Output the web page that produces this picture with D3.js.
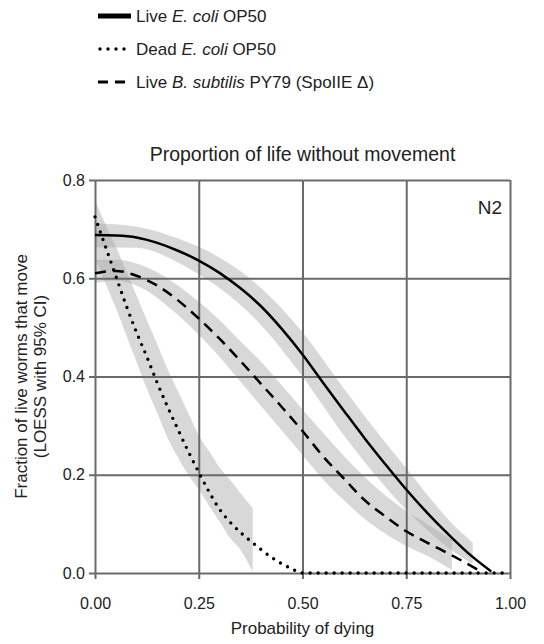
<!DOCTYPE html>
<html>
<head>
<meta charset="utf-8">
<script src="https://cdn.jsdelivr.net/npm/d3@7"></script>
<style>
  body { margin: 0; background: #fff; }
  svg text { font-family: "Liberation Sans", Arial, sans-serif; fill: #222; }
</style>
</head>
<body>
<div id="chart"></div>
<script>
// Live E. coli OP50
const liveX  = [0, 0.05, 0.1, 0.15, 0.2, 0.25, 0.3, 0.35, 0.4, 0.45, 0.5, 0.55, 0.6, 0.65, 0.7, 0.75, 0.8, 0.85, 0.9, 0.955];
const liveY  = [0.688, 0.687, 0.683, 0.672, 0.656, 0.636, 0.611, 0.58, 0.543, 0.497, 0.445, 0.387, 0.33, 0.274, 0.221, 0.17, 0.123, 0.08, 0.04, 0.003];
const liveBandX  = [0, 0.1, 0.2, 0.25, 0.3, 0.4, 0.5, 0.6, 0.7, 0.75, 0.8, 0.85, 0.91];
const liveBandLo = [0.663, 0.662, 0.632, 0.608, 0.58, 0.505, 0.4, 0.28, 0.175, 0.128, 0.088, 0.052, 0.018];
const liveBandHi = [0.712, 0.705, 0.681, 0.664, 0.642, 0.58, 0.49, 0.375, 0.265, 0.213, 0.16, 0.11, 0.062];

// Dead E. coli OP50
const deadX  = [0, 0.025, 0.05, 0.075, 0.1, 0.125, 0.15, 0.175, 0.2, 0.225, 0.25, 0.275, 0.3, 0.325, 0.35, 0.375, 0.4, 0.425, 0.45, 0.475, 0.5, 0.75, 1.0];
const deadY  = [0.725, 0.665, 0.605, 0.545, 0.49, 0.44, 0.387, 0.338, 0.292, 0.247, 0.205, 0.165, 0.13, 0.104, 0.083, 0.065, 0.048, 0.032, 0.019, 0.008, 0.0, 0.0, 0.0];
const deadBandX  = [0, 0.025, 0.05, 0.075, 0.1, 0.125, 0.15, 0.175, 0.2, 0.225, 0.25, 0.275, 0.3, 0.325, 0.35, 0.38];
const deadBandLo = [0.64, 0.59, 0.54, 0.485, 0.43, 0.375, 0.325, 0.275, 0.235, 0.2, 0.17, 0.137, 0.105, 0.072, 0.048, 0.003];
const deadBandHi = [0.76, 0.71, 0.665, 0.615, 0.565, 0.515, 0.465, 0.415, 0.37, 0.325, 0.28, 0.248, 0.215, 0.19, 0.163, 0.132];

// Live B. subtilis PY79 (SpoIIE delta)
const bsubX  = [0, 0.05, 0.1, 0.15, 0.2, 0.25, 0.3, 0.35, 0.4, 0.45, 0.5, 0.55, 0.6, 0.65, 0.7, 0.75, 0.8, 0.86, 0.93];
const bsubY  = [0.61, 0.615, 0.605, 0.585, 0.555, 0.518, 0.477, 0.432, 0.385, 0.338, 0.289, 0.237, 0.192, 0.148, 0.115, 0.085, 0.062, 0.036, 0.003];
const bsubBandX  = [0, 0.05, 0.1, 0.15, 0.2, 0.25, 0.3, 0.35, 0.4, 0.45, 0.5, 0.55, 0.6, 0.65, 0.7, 0.75, 0.8, 0.86];
const bsubBandLo = [0.59, 0.595, 0.585, 0.56, 0.525, 0.485, 0.44, 0.39, 0.34, 0.29, 0.24, 0.19, 0.148, 0.11, 0.08, 0.055, 0.035, 0.006];
const bsubBandHi = [0.637, 0.638, 0.63, 0.612, 0.585, 0.552, 0.515, 0.472, 0.43, 0.382, 0.333, 0.285, 0.238, 0.195, 0.158, 0.126, 0.1, 0.067];

const xTicks = [0, 0.25, 0.5, 0.75, 1.0];
const yTicks = [0, 0.2, 0.4, 0.6, 0.8];

(function() {

    let width = 544,
        height = 644;
    let margin = {top: 180, right: 34, bottom: 71, left: 95};
    let innerW = width - margin.left - margin.right,
        innerH = height - margin.top - margin.bottom;

    let svg = d3.select("#chart")
        .append("svg")
        .attr("width", width)
        .attr("height", height);

    // legend
    let legendRows = [
        {dash: null, cap: "butt", w: 5, x1: 0, x2: 33, parts: [["Live ", false], ["E. coli", true], [" OP50", false]]},
        {dash: "0,8", cap: "round", w: 3.4, x1: 2, x2: 27, parts: [["Dead ", false], ["E. coli", true], [" OP50", false]]},
        {dash: "10,7", cap: "butt", w: 3, x1: 0, x2: 31, parts: [["Live ", false], ["B. subtilis", true], [" PY79 (SpoIIE \u0394)", false]]}
    ];
    let legend = svg.append("g").attr("transform", "translate(98, 16)");
    legendRows.forEach(function(r, i) {
        let row = legend.append("g").attr("transform", `translate(0, ${i * 33})`);
        row.append("line")
            .attr("x1", r.x1).attr("x2", r.x2)
            .attr("y1", 0).attr("y2", 0)
            .attr("stroke", "#000")
            .attr("stroke-width", r.w)
            .attr("stroke-linecap", r.cap)
            .attr("stroke-dasharray", r.dash);
        let t = row.append("text")
            .attr("x", 38).attr("y", 6)
            .style("font-size", "17px");
        r.parts.forEach(function(p) {
            t.append("tspan").style("font-style", p[1] ? "italic" : "normal").text(p[0]);
        });
    });

    // title
    svg.append("text")
        .attr("x", margin.left + innerW / 2)
        .attr("y", 161)
        .style("text-anchor", "middle")
        .style("font-size", "19.5px")
        .text("Proportion of life without movement");

    let g = svg.append("g")
        .attr("transform", `translate(${margin.left}, ${margin.top})`);

    let x = d3.scaleLinear().domain([0, 1]).range([0, innerW]);
    let y = d3.scaleLinear().domain([0, 0.8]).range([innerH, 0]);

    let band = d3.area()
        .x(function(d) { return x(d.x); })
        .y0(function(d) { return y(d.lo); })
        .y1(function(d) { return y(d.hi); })
        .curve(d3.curveMonotoneX);

    let line = d3.line()
        .x(function(d) { return x(d.x); })
        .y(function(d) { return y(d.y); })
        .curve(d3.curveMonotoneX);

    let toBand = (xs, lo, hi) => xs.map((v, i) => ({x: v, lo: lo[i], hi: hi[i]}));
    let toLine = (xs, ys) => xs.map((v, i) => ({x: v, y: ys[i]}));

    [toBand(liveBandX, liveBandLo, liveBandHi),
     toBand(bsubBandX, bsubBandLo, bsubBandHi),
     toBand(deadBandX, deadBandLo, deadBandHi)].forEach(function(b) {
        g.append("path")
            .datum(b)
            .attr("d", band)
            .attr("fill", "#a8a8a8")
            .attr("fill-opacity", 0.45);
    });

    // grid
    g.append("g")
        .call(d3.axisBottom(x).tickValues(xTicks).tickFormat(d3.format(".2f")).tickSizeOuter(0))
        .call(function(a) {
            a.select(".domain").remove();
            a.selectAll(".tick line").attr("y1", 0).attr("y2", innerH + 6)
                .attr("stroke", "#6a6a6a").attr("stroke-width", 2);
            a.selectAll(".tick text").attr("y", innerH + 25).attr("dy", "0.71em")
                .style("font-size", "16px").attr("fill", "#222");
        });

    g.append("g")
        .call(d3.axisLeft(y).tickValues(yTicks).tickFormat(d3.format(".1f")).tickSizeOuter(0))
        .call(function(a) {
            a.select(".domain").remove();
            a.selectAll(".tick line").attr("x1", -6).attr("x2", innerW)
                .attr("stroke", "#6a6a6a").attr("stroke-width", 2);
            a.selectAll(".tick text").attr("x", -10)
                .style("font-size", "16px").attr("fill", "#222");
        });

    // curves
    g.append("path")
        .datum(toLine(liveX, liveY))
        .attr("d", line)
        .attr("fill", "none")
        .attr("stroke", "#000")
        .attr("stroke-width", 2.5);

    g.append("path")
        .datum(toLine(bsubX, bsubY))
        .attr("d", line)
        .attr("fill", "none")
        .attr("stroke", "#000")
        .attr("stroke-width", 2.5)
        .attr("stroke-dasharray", "11,7");

    g.append("path")
        .datum(toLine(deadX, deadY))
        .attr("d", line)
        .attr("fill", "none")
        .attr("stroke", "#000")
        .attr("stroke-width", 3.4)
        .attr("stroke-linecap", "round")
        .attr("stroke-dasharray", "0,8");

    // panel label
    g.append("text")
        .attr("x", innerW - 8)
        .attr("y", 34)
        .style("text-anchor", "end")
        .style("font-size", "19px")
        .text("N2");

    // axis titles
    svg.append("text")
        .attr("x", margin.left + innerW / 2)
        .attr("y", 634)
        .style("text-anchor", "middle")
        .style("font-size", "17px")
        .text("Probability of dying");

    let yt = svg.append("text")
        .attr("transform", `translate(0, ${margin.top + innerH / 2}) rotate(-90)`)
        .style("text-anchor", "middle")
        .style("font-size", "17px");
    yt.append("tspan").attr("x", 0).attr("y", 27).text("Fraction of live worms that move");
    yt.append("tspan").attr("x", 0).attr("y", 46).text("(LOESS with 95% CI)");

})();
</script>
</body>
</html>
